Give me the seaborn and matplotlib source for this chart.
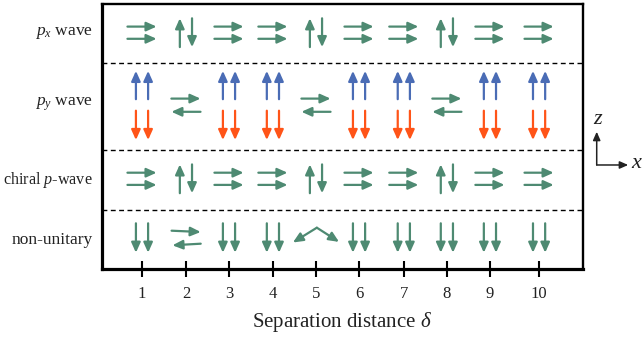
import matplotlib
matplotlib.use("Agg")
import matplotlib.pyplot as plt
import seaborn as sns

# ---- data ----
separation = [1, 2, 3, 4, 5, 6, 7, 8, 9, 10]
sep_pos = [1, 2.01, 3, 4.01, 5, 5.99, 7.02, 8.01, 9, 10.13]
row_labels = [r"$p_x$ wave", r"$p_y$ wave", r"chiral $p$-wave", "non-unitary"]
px_state = ["xx", "ud", "xx", "xx", "ud", "xx", "xx", "ud", "xx", "xx"]
py_state = ["uudd", "rl", "uudd", "uudd", "rl", "uudd", "uudd", "rl", "uudd", "uudd"]
chiral_state = ["xx", "ud", "xx", "xx", "ud", "xx", "xx", "ud", "xx", "xx"]
nonunitary_state = ["dd", "rlt", "dd", "dd", "vee", "dd", "dd", "dd", "dd", "dd"]

GREEN = "#4e8a72"
BLUE = "#4a6cb5"
ORANGE = "#ff5418"

sns.set_theme(style="white")
plt.rcParams["font.family"] = ["Liberation Serif", "DejaVu Serif"]
plt.rcParams["mathtext.fontset"] = "custom"
plt.rcParams["mathtext.rm"] = "Liberation Serif"
plt.rcParams["mathtext.it"] = "Liberation Serif:italic"
plt.rcParams["mathtext.bf"] = "Liberation Serif:bold"

fig = plt.figure(figsize=(6.42, 3.37), dpi=100)
ax = fig.add_axes([102 / 642, 1 - 269 / 337, 481 / 642, 265 / 337])
ax.set_xlim(0.08, 11.14)
ax.set_ylim(0, 265)


def arrow(x0, y0, x1, y1, color):
    ax.annotate("", xy=(x1, y1), xytext=(x0, y0),
                arrowprops=dict(arrowstyle="-|>,head_length=0.6,head_width=0.27",
                                color=color, lw=1.6, shrinkA=0, shrinkB=0,
                                mutation_scale=10))


HL = 0.335   # half length of horizontal arrows (x units)
DX = 0.14    # half spacing of vertical pairs (x units)


def draw(state, cx, cy):
    if state == "xx":
        for dy in (6.1, -6.1):
            arrow(cx - HL, cy + dy, cx + HL, cy + dy, GREEN)
    elif state == "ud":
        arrow(cx - DX, cy - 14.4, cx - DX, cy + 14.4, GREEN)
        arrow(cx + DX, cy + 14.4, cx + DX, cy - 14.4, GREEN)
    elif state == "uudd":
        for d in (-DX, DX):
            arrow(cx + d, cy + 6, cx + d, cy + 34.3, BLUE)
            arrow(cx + d, cy - 5.5, cx + d, cy - 34.8, ORANGE)
    elif state == "rl":
        arrow(cx - HL, cy + 6.6, cx + HL, cy + 6.6, GREEN)
        arrow(cx + HL, cy - 6.6, cx - HL, cy - 6.6, GREEN)
    elif state == "dd":
        for d in (-DX, DX):
            arrow(cx + d, cy + 14.7, cx + d, cy - 14.7, GREEN)
    elif state == "rlt":
        arrow(cx - 0.33, cy + 7.3, cx + 0.34, cy + 6.0, GREEN)
        arrow(cx + 0.34, cy - 5.7, cx - 0.31, cy - 7.3, GREEN)
    elif state == "vee":
        arrow(cx + 0.02, cy + 10.3, cx - 0.53, cy - 4.5, GREEN)
        arrow(cx + 0.02, cy + 10.3, cx + 0.53, cy - 3.9, GREEN)


rows = [(px_state, 236.3), (py_state, 163.8), (chiral_state, 90.2), (nonunitary_state, 31.0)]
for states, cy in rows:
    for st, cx in zip(states, sep_pos):
        draw(st, cx, cy)

for yb in (206, 119, 59):
    ax.axhline(yb, color="black", lw=1.0, ls=(0, (3.5, 2.5)))

label_y = [236.3, 164.5, 89.5, 29.5]
label_size = [12.5, 12.5, 11.6, 12.5]
for lab, yy, fs in zip(row_labels, label_y, label_size):
    ax.text(-0.019, yy, lab, transform=ax.get_yaxis_transform(), ha="right",
            va="center", fontsize=fs, color="#222222")

ax.set_xticks(sep_pos)
ax.set_xticklabels([str(s) for s in separation])
ax.set_yticks([])
ax.tick_params(axis="x", bottom=True, direction="inout", length=11, width=1.5,
               pad=6.5, labelsize=12, colors="black", labelcolor="#222222")
ax.set_xlabel(r"Separation distance $\delta$", fontsize=15, labelpad=6, color="#222222")

for side in ("left", "bottom"):
    ax.spines[side].set_linewidth(2.3)
for side in ("top", "right"):
    ax.spines[side].set_linewidth(1.7)
for sp in ax.spines.values():
    sp.set_color("black")
    sp.set_visible(True)

# coordinate indicator
corner = (1.0285, 0.3925)
ax.annotate("", xy=(1.0285, 0.518), xytext=corner, xycoords="axes fraction",
            textcoords="axes fraction", annotation_clip=False,
            arrowprops=dict(arrowstyle="-|>,head_length=0.5,head_width=0.22",
                            color="#222222", lw=1.1, shrinkA=0, shrinkB=0, mutation_scale=10))
ax.annotate("", xy=(1.094, 0.3925), xytext=corner, xycoords="axes fraction",
            textcoords="axes fraction", annotation_clip=False,
            arrowprops=dict(arrowstyle="-|>,head_length=0.5,head_width=0.22",
                            color="#222222", lw=1.1, shrinkA=0, shrinkB=0, mutation_scale=10))
ax.text(1.031, 0.565, r"$z$", transform=ax.transAxes, ha="center", va="center",
        fontsize=16, color="#222222")
ax.text(1.112, 0.40, r"$x$", transform=ax.transAxes, ha="center", va="center",
        fontsize=16, color="#222222")

fig.savefig("out.png", dpi=100)
